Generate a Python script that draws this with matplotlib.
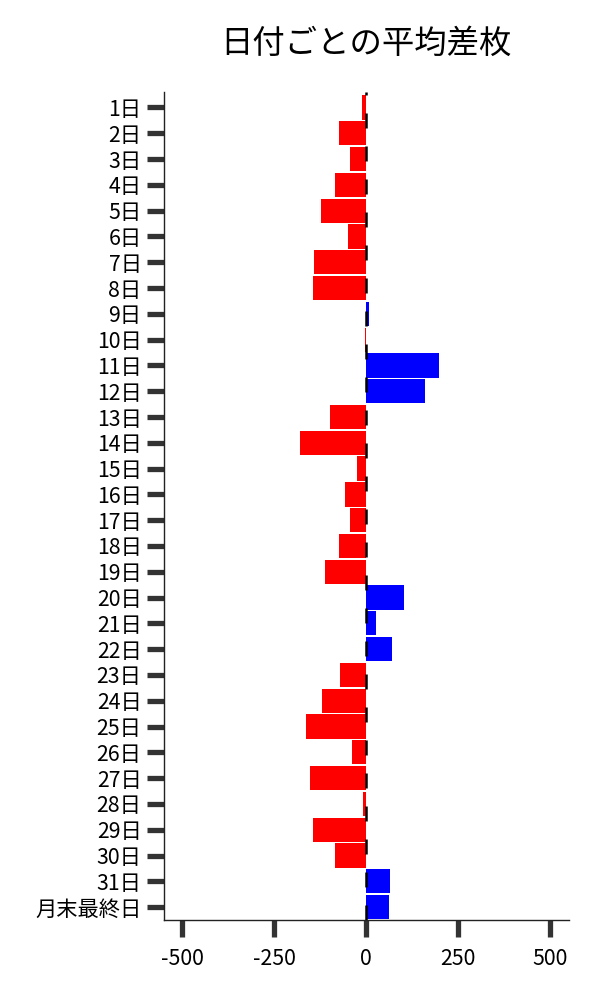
import matplotlib
matplotlib.use("Agg")
import matplotlib.pyplot as plt

plt.rcParams['font.family'] = ['Noto Sans CJK JP', 'DejaVu Sans']
plt.rcParams['axes.unicode_minus'] = False

labels = [f"{i}日" for i in range(1, 32)] + ["月末最終日"]
values = [-12, -73, -43, -85, -122, -49, -141, -144, 6, -3,
          198, 160, -98, -179, -24, -57, -43, -73, -111, 103,
          27, 70, -71, -120, -163, -38, -152, -8, -144, -84,
          64, 62]
xticks = [-500, -250, 0, 250, 500]

fig = plt.figure(figsize=(6, 10), dpi=100)
ax = fig.add_axes([0.273, 0.08, 0.675, 0.828])

colors = ['#0000ff' if v > 0 else '#ff0000' for v in values]
pos = list(range(len(labels)))
ax.barh(pos, values, height=0.94, color=colors, edgecolor='none', zorder=2)
ax.axvline(0, color='black', linewidth=1.8, linestyle=(0, (6.0, 7.2)), zorder=3)

ax.set_yticks(pos)
ax.set_yticklabels(labels, fontsize=15.3)
ax.set_ylim(len(labels) - 0.5, -0.6)
ax.set_xlim(-550, 550)
ax.set_xticks(xticks)
ax.set_xticklabels([str(t) for t in xticks], fontsize=15.3)

ax.tick_params(axis='both', length=12, width=3.8, color='#333333')
ax.tick_params(axis='x', pad=8)
ax.tick_params(axis='y', pad=4)
for s in ['top', 'right']:
    ax.spines[s].set_visible(False)
for s in ['left', 'bottom']:
    ax.spines[s].set_linewidth(1.0)
    ax.spines[s].set_color('#222222')

ax.set_title("日付ごとの平均差枚", fontsize=23.3, pad=28)

fig.savefig("out.png", dpi=100)
